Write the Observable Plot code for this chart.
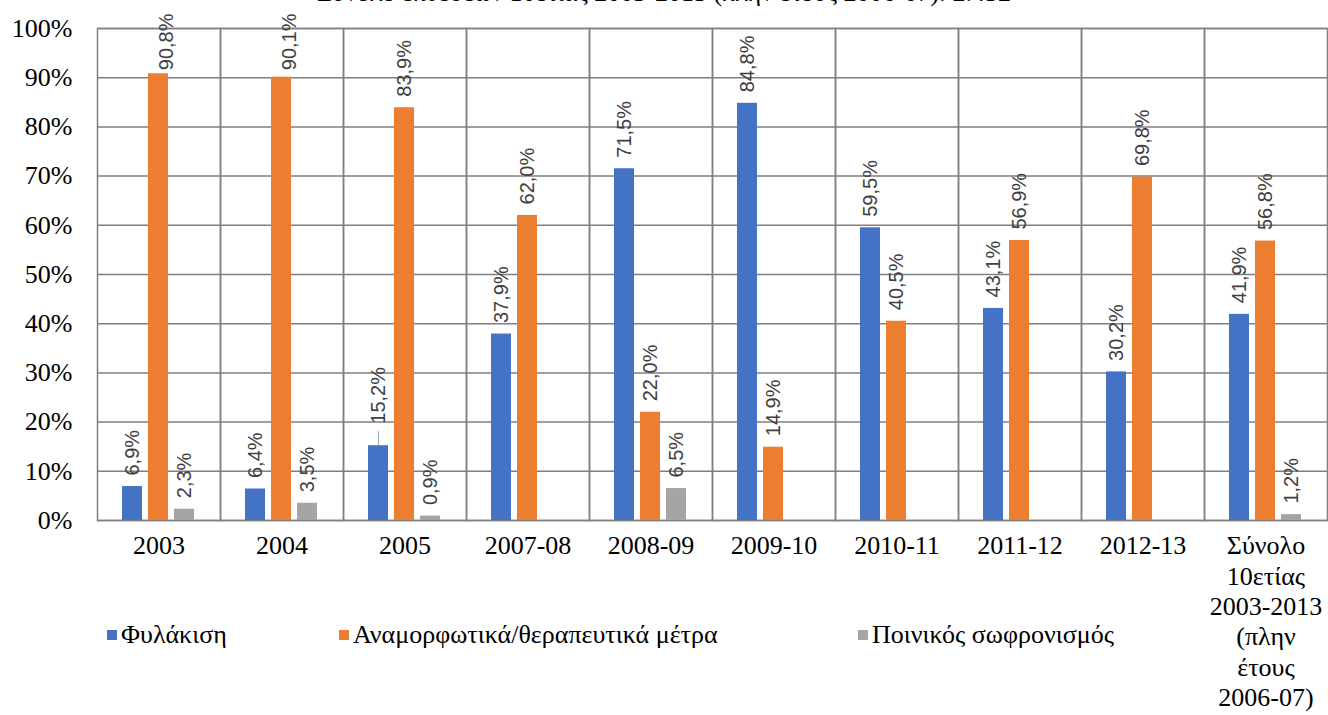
<!DOCTYPE html>
<html>
<head>
<meta charset="utf-8">
<script src="https://cdn.jsdelivr.net/npm/d3@7"></script>
<script src="https://cdn.jsdelivr.net/npm/@observablehq/plot@0.6"></script>
<style>
  html, body { margin: 0; padding: 0; background: #fff; }
  #wrap { position: relative; width: 1328px; height: 715px; overflow: hidden; }
  #title { position: absolute; left: 0; width: 1328px; top: -22px; text-align: center;
           font-family: "Liberation Serif", "Times New Roman", "DejaVu Serif", serif; font-size: 26px; color: #000; white-space: nowrap; }
  #legend { position: absolute; left: 0; top: 620px; width: 1328px; height: 30px;
            font-family: "Liberation Serif", "Times New Roman", "DejaVu Serif", serif; font-size: 26px; color: #000; }
  .li { position: absolute; top: 0; display: flex; align-items: center; white-space: nowrap; }
  .sw { width: 10px; height: 10px; margin-right: 4px; }
</style>
</head>
<body>
<div id="wrap">
  <div id="title"></div>
  <div id="chart"></div>
  <div id="legend"></div>
</div>
<script>
const titleText = "Σύνολο εκθέσεων 10ετίας 2003-2013 (πλην έτους 2006-07): 2.452";
const categories = ["2003", "2004", "2005", "2007-08", "2008-09", "2009-10", "2010-11", "2011-12", "2012-13",
  "Σύνολο\n10ετίας\n2003-2013\n(πλην\nέτους\n2006-07)"];
const series = ["Φυλάκιση", "Αναμορφωτικά/θεραπευτικά μέτρα", "Ποινικός σωφρονισμός"];
const fylakisi = [6.9, 6.4, 15.2, 37.9, 71.5, 84.8, 59.5, 43.1, 30.2, 41.9];
const anamorfotika = [90.8, 90.1, 83.9, 62.0, 22.0, 14.9, 40.5, 56.9, 69.8, 56.8];
const poinikos = [2.3, 3.5, 0.9, null, 6.5, null, null, null, null, 1.2];
const colors = ["#4472C4", "#ED7D31", "#A5A5A5"];
const yTicks = [0, 10, 20, 30, 40, 50, 60, 70, 80, 90, 100];

document.getElementById("title").textContent = titleText;

const seriesValues = [fylakisi, anamorfotika, poinikos];
const rows = [];
categories.forEach((c, i) => {
  series.forEach((s, j) => {
    const v = seriesValues[j][i];
    if (v != null) rows.push({cat: c, series: s, value: v});
  });
});
const fmt = v => v.toFixed(1).replace(".", ",") + "%";
const serif = "'Liberation Serif', 'Times New Roman', 'DejaVu Serif', serif";
const sans = "'Liberation Sans', Arial, sans-serif";
const gridColor = "#7f7f7f";
const labelColor = "#404040";

// labels near the top are pinned to the top of the chart area
const isTop = d => d.value > 89;
const isLeader = d => d.cat === "2005" && d.series === series[0];

const chart = Plot.plot({
  width: 1328,
  height: 715,
  marginLeft: 97,
  marginRight: 1,
  marginTop: 28,
  marginBottom: 195,
  style: {background: "transparent"},
  fx: {domain: categories, padding: 0, label: null, axis: null},
  x: {domain: series, paddingInner: 0.222, paddingOuter: 0.889, axis: null},
  y: {domain: [0, 100], axis: null},
  color: {domain: series, range: colors},
  marks: [
    Plot.gridY(yTicks, {stroke: gridColor, strokeOpacity: 1, strokeWidth: 1.5}),
    Plot.frame({stroke: gridColor, strokeWidth: 1.5}),
    Plot.barY(rows, {fx: "cat", x: "series", y: "value", fill: "series"}),
    Plot.text(rows.filter(d => !isTop(d) && !isLeader(d)), {
      fx: "cat", x: "series", y: "value", text: d => fmt(d.value),
      rotate: -90, textAnchor: "start", dy: -11,
      fontSize: 20, fontFamily: sans, fill: labelColor
    }),
    Plot.text(rows.filter(isTop), {
      fx: "cat", x: "series", frameAnchor: "top", text: d => fmt(d.value),
      rotate: -90, textAnchor: "end", dy: -15,
      fontSize: 20, fontFamily: sans, fill: labelColor
    }),
    Plot.text(rows.filter(isLeader), {
      fx: "cat", x: "series", y: "value", text: d => fmt(d.value),
      rotate: -90, textAnchor: "start", dy: -22,
      fontSize: 20, fontFamily: sans, fill: labelColor
    }),
    Plot.ruleX(rows.filter(isLeader), {
      fx: "cat", x: "series", y1: "value", y2: "value", insetTop: -14,
      stroke: "#a6a6a6", strokeWidth: 1
    }),
    Plot.axisY(yTicks, {
      tickSize: 0, tickPadding: 25, tickFormat: d => d + "%", label: null,
      fontSize: 26, fontFamily: serif, fill: "#000"
    }),
    Plot.axisFx({
      anchor: "bottom", tickSize: 0, tickPadding: 12, label: null,
      fontSize: 26, fontFamily: serif, fill: "#000", lineHeight: 1.17
    })
  ]
});
document.getElementById("chart").appendChild(chart);

const legend = document.getElementById("legend");
const legendX = [107, 339, 858];
series.forEach((s, i) => {
  const item = document.createElement("div");
  item.className = "li";
  item.style.left = legendX[i] + "px";
  const sw = document.createElement("span");
  sw.className = "sw";
  sw.style.background = colors[i];
  const t = document.createElement("span");
  t.textContent = s;
  item.appendChild(sw);
  item.appendChild(t);
  legend.appendChild(item);
});
</script>
</body>
</html>
